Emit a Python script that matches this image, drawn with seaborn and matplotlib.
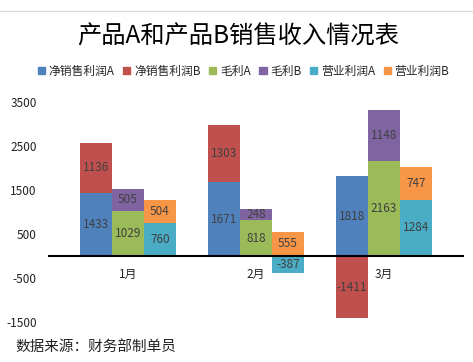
import matplotlib
matplotlib.use('Agg')
import matplotlib.pyplot as plt
import seaborn as sns
import pandas as pd
from matplotlib.patches import Patch
from matplotlib.lines import Line2D

# Data
months = ['1月', '2月', '3月']
metrics = ['净销售利润', '毛利', '营业利润']
net_a = [1433, 1671, 1818]
net_b = [1136, 1303, -1411]
gross_a = [1029, 818, 2163]
gross_b = [505, 248, 1148]
op_a = [760, -387, 1284]
op_b = [504, 555, 747]

colors_a = ['#4F81BD', '#9BBB59', '#4BACC6']
colors_b = ['#C0504D', '#8064A2', '#F79646']

sns.set_theme(style='white')
plt.rcParams['font.family'] = ['Noto Sans CJK SC', 'DejaVu Sans']
plt.rcParams['axes.unicode_minus'] = False

# long table: A part and B part per month/metric
rows = []
a_vals = [net_a, gross_a, op_a]
b_vals = [net_b, gross_b, op_b]
for mi, m in enumerate(metrics):
    for di, mon in enumerate(months):
        a = a_vals[mi][di]
        b = b_vals[mi][di]
        same_sign = (a >= 0) == (b >= 0)
        top = a + b if same_sign else b
        base_b = a if same_sign else 0
        rows.append({'month': mon, 'metric': m, 'a': a, 'b': b,
                     'top': top, 'base_b': base_b})
df = pd.DataFrame(rows)

fig = plt.figure(figsize=(4.73, 3.62), dpi=100)
ax = fig.add_axes([48 / 473, 1 - 322 / 362, 416 / 473, 220 / 362])

# stacked bars: draw the top (B) layer first, then the A layer over it
sns.barplot(data=df, x='month', y='top', hue='metric', order=months,
            hue_order=metrics, palette=colors_b, width=0.75, linewidth=0,
            saturation=1, legend=False, ax=ax)
sns.barplot(data=df, x='month', y='a', hue='metric', order=months,
            hue_order=metrics, palette=colors_a, width=0.75, linewidth=0,
            saturation=1, legend=False, ax=ax)

# data labels
offsets = [-0.25, 0, 0.25]
for _, r in df.iterrows():
    x = months.index(r['month']) + offsets[metrics.index(r['metric'])]
    ax.text(x, r['a'] / 2, str(r['a']), ha='center', va='center',
            fontsize=8.5, color='#404040')
    ax.text(x, r['base_b'] + r['b'] / 2, str(r['b']), ha='center',
            va='center', fontsize=8.5, color='#404040')

ax.axhline(0, color='black', lw=1.5)
ax.set_xlim(-0.625, 2.625)
ax.set_ylim(-1500, 3500)
ax.set_yticks([-1500, -500, 500, 1500, 2500, 3500])
ax.set_yticklabels(['-1500', '-500', '500', '1500', '2500', '3500'])
ax.tick_params(axis='y', labelsize=8.5, length=0, pad=8, colors='#222222')
ax.set_xticks([])
ax.set_xlabel('')
ax.set_ylabel('')
for s in ax.spines.values():
    s.set_visible(False)

# month labels next to the zero line
for i, mon in enumerate(months):
    ax.text(i, -410, mon, ha='center', va='center', fontsize=8.5,
            color='#222222')

fig.text(0.503, 1 - 37 / 362, '产品A和产品B销售收入情况表', ha='center',
         va='center', fontsize=17.5, color='black')

handles, labels = [], []
for ca, cb, m in zip(colors_a, colors_b, metrics):
    handles += [Patch(color=ca), Patch(color=cb)]
    labels += [m + 'A', m + 'B']
fig.legend(handles, labels, loc='center', bbox_to_anchor=(0.515, 1 - 71 / 362),
           ncol=6, frameon=False, fontsize=8.5, handlelength=0.6,
           handleheight=0.6, handletextpad=0.3, columnspacing=0.75)

fig.text(15 / 473, 1 - 347 / 362, '数据来源：财务部制单员', ha='left',
         va='center', fontsize=10.5, color='#222222')

fig.add_artist(Line2D([0, 1], [1 - 11 / 362] * 2, color='#D9D9D9', lw=1))

fig.savefig('out.png', dpi=100)
